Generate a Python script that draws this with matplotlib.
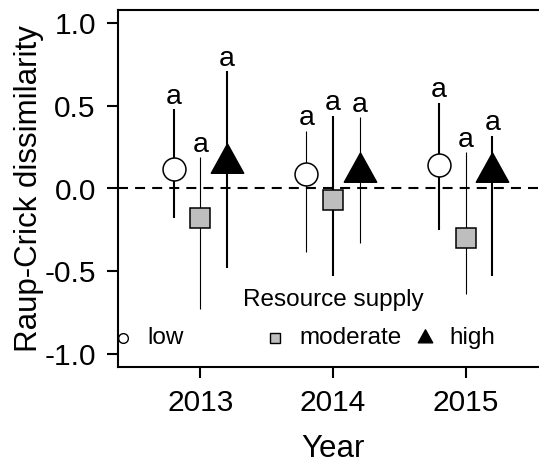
import matplotlib
matplotlib.use('Agg')
import matplotlib.pyplot as plt
from matplotlib.path import Path
import numpy as np

plt.rcParams['font.family'] = ['Liberation Sans', 'DejaVu Sans']

years = [2013, 2014, 2015]
supply = ['low', 'moderate', 'high']

# mean and interval ends, one list per resource supply level (2013, 2014, 2015)
mean_low = [0.12, 0.085, 0.14]
upper_low = [0.48, 0.35, 0.52]
lower_low = [-0.18, -0.385, -0.25]

mean_mod = [-0.18, -0.07, -0.30]
upper_mod = [0.19, 0.44, 0.22]
lower_mod = [-0.73, -0.53, -0.64]

mean_high = [0.155, 0.10, 0.10]
upper_high = [0.71, 0.43, 0.32]
lower_high = [-0.48, -0.33, -0.53]

letters_low = ['a', 'a', 'a']
letters_mod = ['a', 'a', 'a']
letters_high = ['a', 'a', 'a']

# R-style triangle, centroid at the data point
tri = Path([(0, 1), (-0.83, -0.5), (0.83, -0.5), (0, 1)],
           [Path.MOVETO, Path.LINETO, Path.LINETO, Path.CLOSEPOLY])

series = [
    (mean_low, upper_low, lower_low, letters_low, -0.2, 'o', 'white', 16.5, [1.5, 0.8, 1.5]),
    (mean_mod, upper_mod, lower_mod, letters_mod, 0.0, 's', '#BEBEBE', 15, [0.8, 1.5, 0.8]),
    (mean_high, upper_high, lower_high, letters_high, 0.2, tri, 'black', 28, [1.5, 0.8, 1.5]),
]

fig = plt.figure(figsize=(5.39, 4.65), dpi=100)
ax = fig.add_axes([118 / 539, 98 / 465, 430 / 539, 357 / 465])

ax.axhline(0, color='black', lw=1.5, linestyle=(0, (4.8, 3.4)), zorder=1)

for mean, up, lo, lett, off, mk, fc, ms, lws in series:
    xs = np.array(years) + off
    for x, m, u, l, t, lw in zip(xs, mean, up, lo, lett, lws):
        ax.plot([x, x], [l, u], color='black', lw=lw, solid_capstyle='butt', zorder=2)
        ax.annotate(t, (x, u), xytext=(0, 4), textcoords='offset points',
                    ha='center', va='baseline', fontsize=20.5)
    ax.plot(xs, mean, linestyle='none', marker=mk, markersize=ms,
            markerfacecolor=fc, markeredgecolor='black', markeredgewidth=1.1, zorder=3)

ax.set_xlim(2012.38, 2015.62)
ax.set_ylim(-1.08, 1.08)
ax.set_xticks(years)
ax.set_yticks([-1.0, -0.5, 0.0, 0.5, 1.0])
ax.set_yticklabels(['-1.0', '-0.5', '0.0', '0.5', '1.0'])
ax.tick_params(axis='both', labelsize=21.5, width=1.5, length=8)
ax.tick_params(axis='y', pad=8)
ax.tick_params(axis='x', pad=8)
for s in ax.spines.values():
    s.set_linewidth(1.5)

ax.set_xlabel('Year', fontsize=22.5, labelpad=12)
ax.set_ylabel('Raup-Crick dissimilarity', fontsize=22.5, labelpad=0)

# legend drawn by hand to get R's equal-width columns
ax.text(0.5, 0.188, 'Resource supply', transform=ax.transAxes,
        ha='center', va='center', fontsize=17.5)
leg_x = [0.012, 0.365, 0.714]
leg_ms = [7, 6.5, 12.5]
for (mean, up, lo, lett, off, mk, fc, ms, lws), name, lx, lms in zip(series, supply, leg_x, leg_ms):
    ax.plot([lx], [0.081], transform=ax.transAxes, marker=mk, markersize=lms,
            markerfacecolor=fc, markeredgecolor='black', markeredgewidth=1.0,
            linestyle='none', clip_on=False)
    ax.text(lx + 0.056, 0.081, name, transform=ax.transAxes,
            ha='left', va='center', fontsize=17.5)

fig.savefig('out.png', dpi=100)
